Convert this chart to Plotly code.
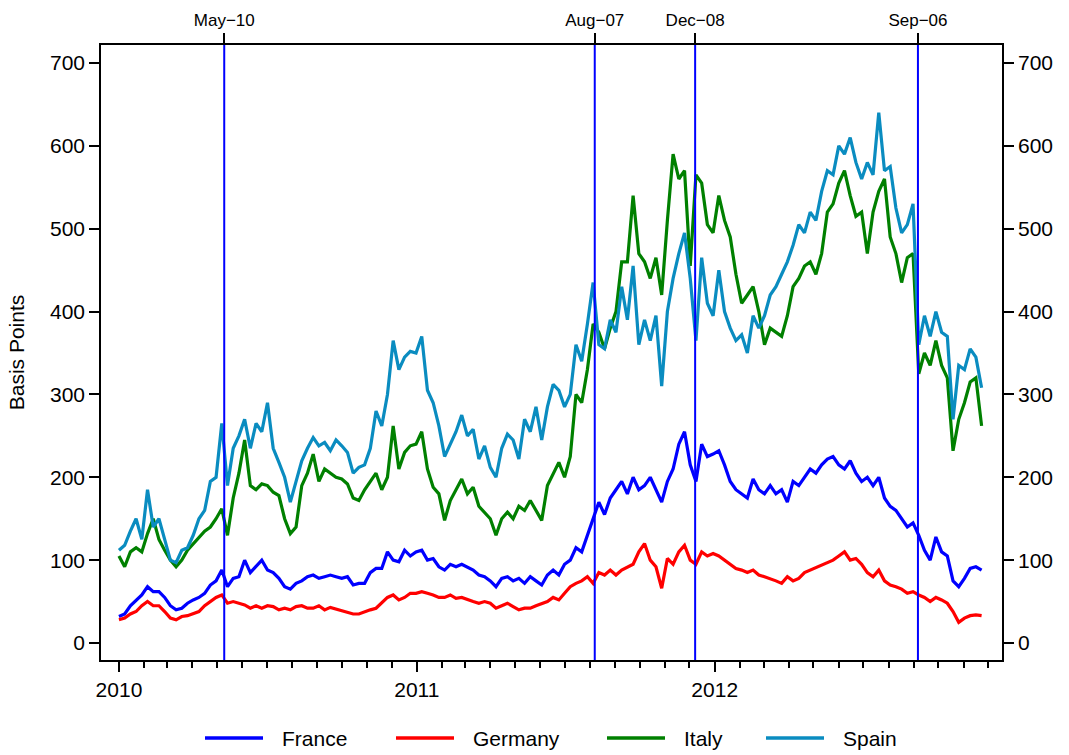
import pandas as pd
import plotly.graph_objects as go

# ---------------- data (weekly readings, basis points) ----------------
start_date = "2010-01-01"
n_weeks = 152
dates = pd.date_range(start_date, periods=n_weeks, freq="7D")

france = [32, 35, 45, 52, 58, 68, 62, 62, 55, 45,
          40, 42, 48, 52, 55, 60, 70, 75, 88, 68,
          78, 80, 100, 85, 92, 100, 88, 85, 78, 68,
          65, 72, 75, 80, 82, 78, 80, 82, 80, 78,
          80, 70, 72, 72, 85, 90, 90, 110, 100, 98,
          112, 105, 110, 112, 100, 102, 92, 88, 95, 92,
          95, 92, 88, 82, 80, 75, 68, 78, 80, 75,
          78, 72, 80, 75, 70, 82, 88, 82, 95, 100,
          115, 110, 130, 150, 170, 155, 175, 185, 195, 180,
          200, 185, 190, 200, 185, 170, 195, 210, 240, 255,
          215, 195, 240, 225, 228, 232, 215, 195, 185, 180,
          175, 198, 185, 180, 190, 180, 185, 170, 195, 190,
          200, 210, 205, 215, 222, 225, 215, 210, 220, 205,
          195, 200, 190, 200, 175, 165, 160, 150, 140, 145,
          130, 112, 100, 128, 110, 105, 75, 68, 78, 90,
          92, 88]

germany = [28, 30, 35, 38, 45, 50, 45, 45, 38, 30,
           28, 32, 33, 35, 38, 45, 50, 55, 58, 48,
           50, 48, 46, 42, 45, 42, 45, 44, 40, 42,
           40, 44, 45, 42, 42, 45, 40, 43, 41, 40,
           38, 35, 35, 38, 40, 42, 48, 55, 58, 52,
           55, 60, 60, 62, 60, 58, 55, 55, 58, 54,
           55, 52, 50, 48, 50, 48, 42, 45, 48, 44,
           40, 42, 42, 45, 48, 50, 55, 52, 60, 68,
           72, 75, 80, 72, 85, 82, 88, 82, 88, 92,
           95, 110, 120, 100, 92, 66, 102, 95, 110, 118,
           100, 95, 110, 105, 108, 105, 100, 95, 90, 88,
           85, 88, 82, 80, 78, 75, 72, 80, 75, 78,
           85, 88, 92, 95, 98, 100, 105, 110, 100, 102,
           95, 85, 80, 88, 75, 70, 68, 65, 60, 62,
           58, 55, 50, 55, 52, 48, 38, 25, 30, 33,
           34, 33]

italy = [105, 92, 110, 115, 110, 132, 150, 125, 112, 100,
         92, 100, 112, 120, 128, 135, 140, 150, 162, 130,
         175, 205, 245, 190, 185, 192, 190, 182, 178, 150,
         132, 140, 190, 205, 228, 195, 210, 205, 200, 198,
         192, 175, 172, 185, 195, 205, 185, 200, 262, 210,
         230, 238, 240, 255, 210, 188, 180, 148, 172, 185,
         198, 180, 188, 165, 158, 150, 130, 150, 158, 150,
         165, 160, 172, 160, 148, 190, 205, 218, 200, 225,
         300, 290, 330, 385, 375, 355, 380, 400, 460, 460,
         540, 470, 460, 440, 465, 420, 510, 590, 560, 570,
         455, 565, 555, 505, 495, 540, 510, 490, 445, 410,
         420, 430, 400, 360, 380, 375, 370, 395, 430, 440,
         455, 460, 445, 470, 520, 530, 555, 570, 540, 515,
         520, 470, 520, 545, 560, 490, 470, 435, 465, 470,
         325, 350, 335, 365, 335, 320, 232, 270, 290, 315,
         320, 262]

spain = [112, 118, 135, 150, 125, 185, 140, 150, 125, 100,
         97, 112, 115, 130, 150, 160, 195, 200, 265, 190,
         235, 250, 270, 235, 265, 255, 290, 235, 218, 200,
         170, 195, 220, 235, 248, 238, 242, 232, 245, 238,
         230, 205, 212, 215, 235, 280, 262, 300, 365, 330,
         345, 352, 350, 370, 305, 290, 262, 225, 240, 255,
         275, 250, 258, 222, 238, 212, 200, 235, 252, 245,
         222, 270, 255, 285, 245, 285, 312, 305, 285, 300,
         360, 340, 385, 435, 360, 355, 390, 375, 430, 390,
         455, 360, 390, 365, 395, 310, 400, 440, 470, 495,
         440, 365, 465, 410, 395, 450, 400, 380, 365, 372,
         350, 395, 380, 395, 420, 430, 445, 460, 480, 505,
         495, 520, 510, 545, 570, 565, 600, 590, 610, 580,
         560, 580, 565, 640, 570, 575, 525, 495, 505, 530,
         360, 395, 370, 400, 375, 370, 270, 335, 330, 355,
         345, 308]

series_names = ["France", "Germany", "Italy", "Spain"]
series_values = [france, germany, italy, spain]

event_dates = ["2010-05-10", "2011-08-07", "2011-12-08", "2012-09-06"]
event_labels = ["May\u221210", "Aug\u221207", "Dec\u221208", "Sep\u221206"]

y_ticks = [0, 100, 200, 300, 400, 500, 600, 700]
y_title = "Basis Points"

# ---------------- styles / layout ----------------
colors = ["#0000FF", "#FF0000", "#008000", "#0A8CC0"]
FONT = "Liberation Sans, Arial, Helvetica, sans-serif"
W, H = 1069, 755
L, R, T, B = 101, 67, 45, 95
x_range = ["2009-12-10", "2012-12-18"]
y_range = [-20.5, 721.7]

fig = go.Figure()
for name, vals, col in zip(series_names, series_values, colors):
    fig.add_trace(go.Scatter(x=dates, y=vals, name=name, mode="lines",
                             line=dict(color=col, width=3.2),
                             showlegend=False))

# invisible trace to activate the secondary (top / right) axes
fig.add_trace(go.Scatter(x=event_dates, y=[0] * len(event_dates), xaxis="x2", yaxis="y2",
                         mode="lines", line=dict(width=0), opacity=0,
                         showlegend=False, hoverinfo="skip"))

axis_common = dict(showline=True, linecolor="black", linewidth=1.6, showgrid=False,
                   zeroline=False, ticks="outside", ticklen=10, tickwidth=1.5,
                   tickcolor="black")

fig.update_layout(
    width=W, height=H,
    margin=dict(l=L, r=R, t=T, b=B),
    paper_bgcolor="white", plot_bgcolor="white",
    font=dict(family=FONT, color="black", size=21),
    xaxis=dict(type="date", range=x_range, tickformat="%Y", dtick="M12",
               tick0="2010-01-01", tickfont=dict(size=21),
               minor=dict(dtick="M1", tick0="2010-01-01", ticks="outside",
                          ticklen=6, tickwidth=1.5, tickcolor="black", showgrid=False),
               **axis_common),
    xaxis2=dict(type="date", range=x_range, overlaying="x", side="top",
                tickmode="array", tickvals=event_dates, ticktext=event_labels,
                tickfont=dict(size=17), **axis_common),
    yaxis=dict(range=y_range, tickmode="array", tickvals=y_ticks,
               tickfont=dict(size=21),
               title=dict(text=y_title, font=dict(size=21), standoff=20),
               **axis_common),
    yaxis2=dict(range=y_range, overlaying="y", side="right", tickmode="array",
                tickvals=y_ticks, tickfont=dict(size=21), **axis_common),
)

# event lines
for d in event_dates:
    fig.add_shape(type="line", xref="x", yref="paper", x0=d, x1=d, y0=0, y1=1,
                  line=dict(color="#0000FF", width=2), layer="above")

# manual legend (R-style, long line samples)
pw, ph = W - L - R, H - T - B
legend_y_px = 738
legend_line_x_px = [205, 396, 607, 766]
legend_line_len = 58
legend_text_gap = 17
ly = (H - B - legend_y_px) / ph
for name, col, x0 in zip(series_names, colors, legend_line_x_px):
    fig.add_shape(type="line", xref="paper", yref="paper",
                  x0=(x0 - L) / pw, x1=(x0 + legend_line_len - L) / pw, y0=ly, y1=ly,
                  line=dict(color=col, width=3.5))
    fig.add_annotation(text=name, xref="paper", yref="paper",
                       x=(x0 + legend_line_len + legend_text_gap - L) / pw, y=ly,
                       xanchor="left", yanchor="middle", showarrow=False,
                       font=dict(size=21, family=FONT, color="black"))

fig.write_html("out.html",
               config={"displayModeBar": False},
               post_script="document.body.style.margin='0';"
                           "document.body.style.overflow='hidden';")
